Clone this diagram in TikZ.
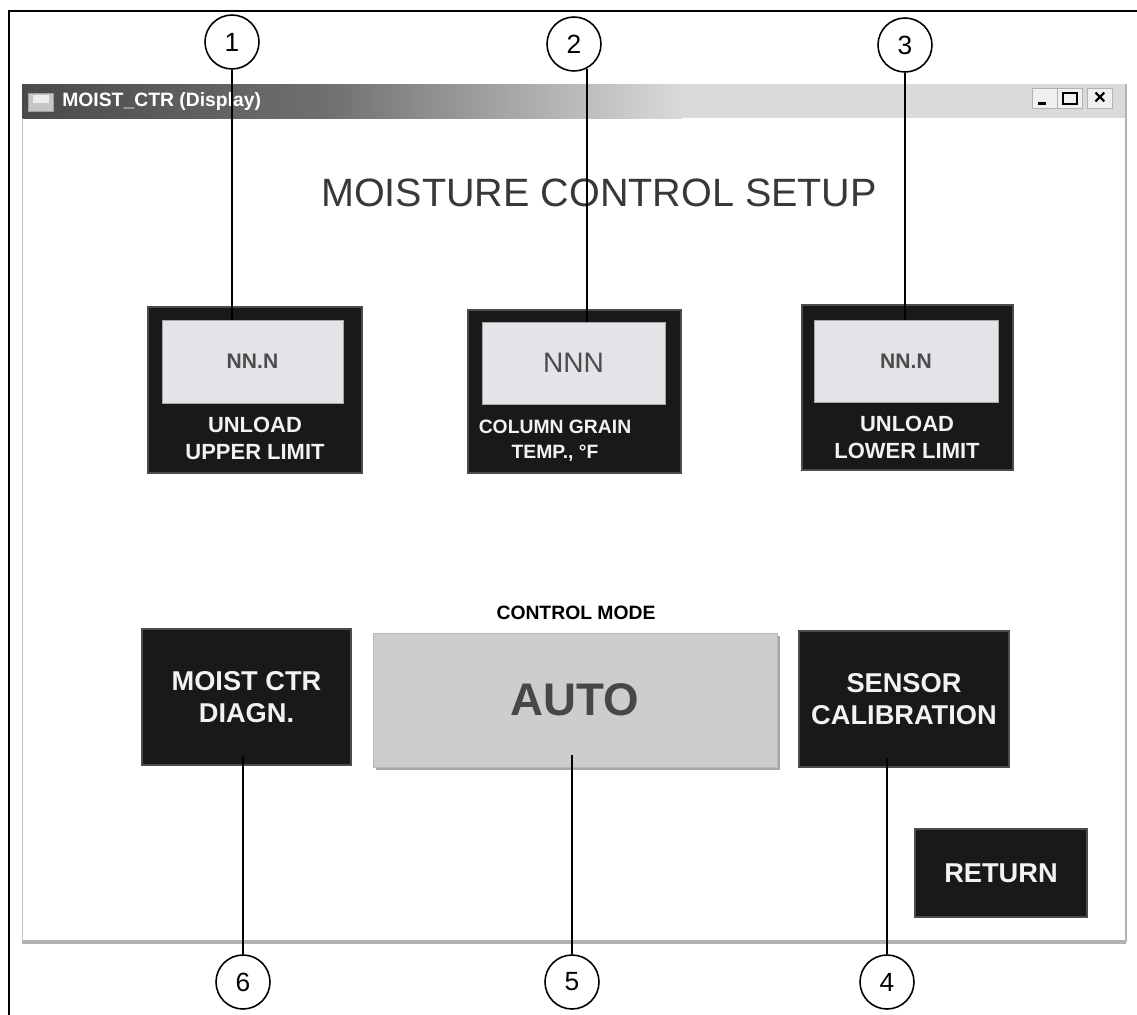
\documentclass[tikz,border=0pt]{standalone}
\usepackage{fontspec}
\setmainfont{Liberation Sans}
\usetikzlibrary{calc,shadows}

\definecolor{panelblack}{HTML}{1B181A}
\definecolor{readoutgray}{HTML}{E6E3E8}
\definecolor{autogray}{HTML}{CFCCCF}
\definecolor{titledark}{HTML}{4A4A4C}
\definecolor{titlemid}{HTML}{707072}
\definecolor{titlelight}{HTML}{DADADA}

\begin{document}
\begin{tikzpicture}[
  x=0.02cm, y=-0.02cm,
  callout/.style={
    circle,
    draw,
    line width=0.9pt,
    minimum size=1.08cm,
    inner sep=0pt,
    font=\fontsize{15}{15}\selectfont
  },
  panel/.style={
    rectangle, inner sep=0pt,
    fill=panelblack, draw=gray!60!black, line width=0.6pt
  },
  readout/.style={
    rectangle, inner sep=0pt,
    fill=readoutgray, draw=gray!70, line width=0.5pt,
    text=black!70
  },
  caption/.style={
    align=center, inner sep=0pt, text=white!90!gray,
    font=\bfseries\fontsize{12.5}{15.3}\selectfont
  },
  button/.style={
    panel, align=center, text=white!90!gray,
    font=\bfseries\fontsize{15.5}{17.8}\selectfont
  },
  winbtn/.style={
    rectangle, inner sep=0pt, minimum width=0.5cm, minimum height=0.4cm,
    fill=gray!12, draw=gray!60, line width=0.5pt
  },
  leader/.style={line width=1.1pt}
]
\useasboundingbox (0,0) rectangle (1137,1015);

% outer frame (left and top only)
\draw[line width=1.2pt] (9,1015) -- (9,11) -- (1137,11);

% window: title bar and border
\shade[left color=titledark, right color=titlemid] (22,84) rectangle (331,118);
\shade[left color=titlemid, right color=titlelight] (330,84) rectangle (682,118);
\fill[titlelight] (680,84) rectangle (1126,118);
\draw[gray!50, line width=0.5pt] (22,118) -- (22,942);
\draw[gray!60, line width=1.8pt] (22,942) -- (1126,942);
\draw[gray!60, line width=1.4pt] (1126,84) -- (1126,942);

\node (icon) at (41,102) [rectangle, inner sep=0pt, minimum width=0.5cm, minimum height=0.36cm,
  fill=gray!45, draw=gray!75] {};
\node (icontop) at (41,99) [rectangle, inner sep=0pt, minimum width=0.34cm, minimum height=0.16cm,
  fill=gray!15] {};
\node (wintitle) at (62,101) [anchor=west, inner sep=0pt, text=white,
  font=\bfseries\fontsize{11}{11}\selectfont] {MOIST\_CTR (Display)};

\node (minbtn) at (1045,98) [winbtn] {};
\node (maxbtn) at (1070,98) [winbtn] {};
\node (closebtn) at (1100,98) [winbtn, font=\bfseries\fontsize{12}{12}\selectfont] {×};
\draw[line width=1.6pt] ($(minbtn.south west)+(6,-5)$) -- ($(minbtn.south west)+(14,-5)$);
\draw[line width=0.8pt] ($(maxbtn.center)+(-7,-5)$) rectangle ($(maxbtn.center)+(7,6)$);
\draw[line width=1.6pt] ($(maxbtn.center)+(-7,-5)$) -- ($(maxbtn.center)+(7,-5)$);

% heading
\node (heading) at (599,193) [text=black!78, font=\fontsize{22.5}{22.5}\selectfont]
  {MOISTURE CONTROL SETUP};

% upper row of read-outs
\node (panel1) at (255,390) [panel, minimum width=4.28cm, minimum height=3.32cm] {};
\node (disp1) at (252.5,361.5) [readout, minimum width=3.62cm, minimum height=1.66cm,
  font=\bfseries\fontsize{12}{12}\selectfont] {NN.N};
\node (cap1) at (255,438.5) [caption] {UNLOAD\\UPPER LIMIT};

\node (panel2) at (574.5,391.5) [panel, minimum width=4.26cm, minimum height=3.26cm] {};
\node (disp2) at (573.5,363) [readout, minimum width=3.66cm, minimum height=1.64cm,
  font=\fontsize{16}{16}\selectfont] {NNN};
\node (cap2) at (555,440.5) [caption, font=\bfseries\fontsize{11}{14.2}\selectfont]
  {COLUMN GRAIN\\TEMP., °F};

\node (panel3) at (907.5,387.5) [panel, minimum width=4.22cm, minimum height=3.30cm] {};
\node (disp3) at (906,361) [readout, minimum width=3.68cm, minimum height=1.64cm,
  font=\bfseries\fontsize{12}{12}\selectfont] {NN.N};
\node (cap3) at (907,437.5) [caption] {UNLOAD\\LOWER LIMIT};

% lower row of buttons
\node (mode) at (576,613) [font=\bfseries\fontsize{11}{11}\selectfont] {CONTROL MODE};
\node (diag) at (246.5,697) [button, minimum width=4.18cm, minimum height=2.72cm]
  {MOIST CTR\\DIAGN.};
\node (auto) at (575,700) [rectangle, inner sep=0pt, minimum width=8.08cm, minimum height=2.68cm,
  fill=autogray, draw=gray!55, line width=0.5pt,
  drop shadow={shadow xshift=1.6pt, shadow yshift=-1.6pt, fill=gray!70, opacity=1},
  text=black!72, font=\bfseries\fontsize{26}{26}\selectfont] {AUTO};
\node (sensor) at (904,699) [button, minimum width=4.20cm, minimum height=2.72cm]
  {SENSOR\\CALIBRATION};
\node (return) at (1001,873) [button, minimum width=3.44cm, minimum height=1.76cm] {RETURN};

% numbered call-outs
\node (c1) at (232,42) [callout] {1};
\node (c2) at (574,44) [callout] {2};
\node (c3) at (905,45) [callout] {3};
\node (c4) at (887,982) [callout] {4};
\node (c5) at (572,982) [callout] {5};
\node (c6) at (243,982) [callout] {6};

\draw[leader] (c1) -- (c1 |- disp1.north);
\draw[leader] (c2.-62) -- (c2.-62 |- disp2.north);
\draw[leader] (c3) -- (c3 |- disp3.north);
\draw[leader] (c4) -- ($(c4 |- sensor.south)+(0,-10)$);
\draw[leader] (c5) -- ($(c5 |- auto.south)+(0,-12)$);
\draw[leader] (c6) -- ($(c6 |- diag.south)+(0,-10)$);
\end{tikzpicture}
\end{document}
